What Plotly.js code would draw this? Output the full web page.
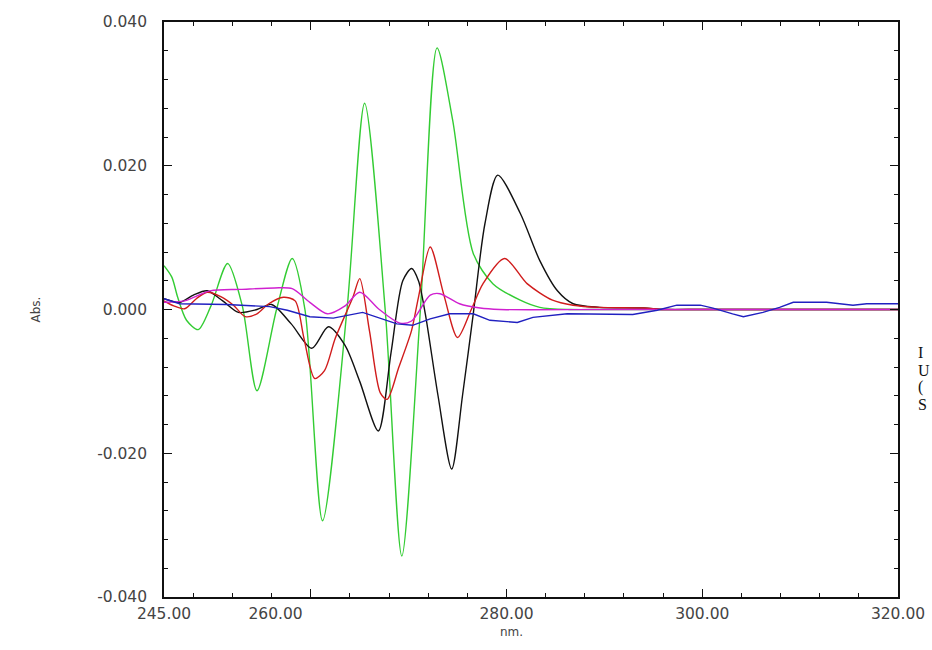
<!DOCTYPE html>
<html>
<head>
<meta charset="utf-8">
<script src="https://cdn.plot.ly/plotly-3.0.1.min.js"></script>
<style>html,body{margin:0;padding:0;background:#fff;overflow:hidden}</style>
</head>
<body>
<div id="chart" style="width:932px;height:650px"></div>
<script>
// Wavelength (nm) and derivative absorbance values
const greenX = [245.0,245.8,246.4,247.3,248.5,249.8,251.5,253.0,254.5,256.5,258.1,259.4,261.2,263.7,265.5,267.6,269.3,271.2,272.9,274.5,276.6,278.6,281.4,283.4,286.5,290,300,310,320];
const greenY = [0.0061,0.0045,0.0017,-0.0015,-0.0028,0.0005,0.0064,0.0005,-0.0113,0.0000,0.0071,0.0000,-0.0294,0.0000,0.0287,0.0000,-0.0343,0.0000,0.0364,0.0263,0.0078,0.0036,0.0013,0.0003,0.0000,0,0,0,0];

const blackX = [245.0,246.6,248.0,249.4,251.0,252.6,254.5,256.0,258.0,260.1,261.8,263.5,265.0,266.9,268.2,269.4,270.3,271.0,271.7,273.0,274.4,275.5,276.6,277.8,279.1,281.4,283.4,285.2,286.8,289.5,294.0,296,300,310,320];
const blackY = [0.0015,0.0010,0.0020,0.0026,0.0012,-0.0004,0.0000,0.0007,-0.0020,-0.0054,-0.0024,-0.0050,-0.0100,-0.0169,-0.0060,0.0040,0.0057,0.0040,-0.0006,-0.0120,-0.0222,-0.0120,-0.0006,0.0120,0.0187,0.0134,0.0068,0.0026,0.0008,0.0003,0.0002,0,0,0,0];

const redX = [245.0,246.0,247.1,248.3,249.4,250.8,252.1,253.3,254.5,255.7,257.2,258.4,259.3,260.4,261.4,262.5,264.3,265.0,266.0,267.1,267.8,269.0,270.3,271.0,272.2,273.6,275.0,276.4,277.6,279.8,282.1,284.7,286.8,289.5,294.0,296,300,310,320];
const redY = [0.0012,0.0005,0.0001,0.0015,0.0024,0.0018,0.0006,-0.0010,-0.0006,0.0008,0.0017,0.0012,-0.0040,-0.0096,-0.0085,-0.0040,0.0017,0.0043,-0.0030,-0.0116,-0.0125,-0.0080,-0.0029,0.0017,0.0087,0.0020,-0.0039,0.0000,0.0036,0.0071,0.0036,0.0013,0.0006,0.0003,0.0002,0,0,0,0];

const magentaX = [245.0,247.1,249.7,252.8,256.3,258.1,259.9,261.7,263.5,265.0,267.0,269.1,270.3,272.2,273.2,275.2,277.3,279.3,290,300,310,320];
const magentaY = [0.0010,0.0012,0.0026,0.0028,0.0030,0.0029,0.0010,-0.0006,0.0005,0.0024,0.0000,-0.0019,-0.0016,0.0020,0.0022,0.0008,0.0002,0.0000,0,0,0,0];

const blueX = [245.0,246.6,251.4,255.8,257.6,259.9,262.3,265.3,268.8,270.4,272.2,274.2,276.6,278.3,281.1,282.7,286.2,289.5,292.9,295.4,297.4,299.8,301.1,303.1,304.2,306.2,307.9,309.3,312.7,315.4,316.8,320.0];
const blueY = [0.0015,0.0008,0.0007,0.0004,-0.0001,-0.0010,-0.0012,-0.0004,-0.0020,-0.0022,-0.0013,-0.0006,-0.0006,-0.0015,-0.0018,-0.0011,-0.0006,-0.0006,-0.0007,-0.0001,0.0006,0.0006,0.0002,-0.0006,-0.0010,-0.0004,0.0003,0.0010,0.0010,0.0006,0.0008,0.0008];

// Axis labels
const yTickVals = [-0.04,-0.02,0,0.02,0.04];
const yTickText = ["-0.040","-0.020","0.000","0.020","0.040"];
const xMajorTicks = [260,280,300];
const xLabelVals = [245,256.4,280,300,320];
const xLabelText = ["245.00","260.00","280.00","300.00","320.00"];
const sideLetters = ["I","U","(","S"];

const mk = (x,y,c) => ({x:x,y:y,type:'scatter',mode:'lines',line:{color:c,width:1.4,shape:'spline',smoothing:0.8},hoverinfo:'skip',showlegend:false});
const data = [
  mk(greenX,greenY,'#33cc33'),
  mk(blackX,blackY,'#111111'),
  mk(redX,redY,'#d01c1c'),
  mk(magentaX,magentaY,'#d020d0'),
  Object.assign(mk(blueX,blueY,'#2020c0'),{line:{color:'#2020c0',width:1.4,shape:'linear'}}),
  {x:[],y:[],xaxis:'x2',type:'scatter',mode:'lines',showlegend:false,hoverinfo:'skip'}
];

const tickFont = {family:'"DejaVu Sans", Verdana, sans-serif',size:15.5,color:'#444'};
const titleFont = {family:'"DejaVu Sans", Verdana, sans-serif',size:12,color:'#444'};
const annotations = [
  {text:'Abs.',xref:'paper',yref:'paper',x:-0.1757,y:0.5,textangle:-90,showarrow:false,xanchor:'center',yanchor:'middle',font:titleFont},
  {text:'nm.',xref:'paper',yref:'paper',x:0.4728,y:-0.061,showarrow:false,xanchor:'center',yanchor:'middle',font:titleFont}
];
const letterY = [352,370,387,404];
sideLetters.forEach((t,i)=>{
  annotations.push({text:t,xref:'paper',yref:'paper',x:(916-164)/734,y:(597-letterY[i])/575,showarrow:false,xanchor:'left',yanchor:'middle',font:{family:'"Liberation Serif", "Times New Roman", serif',size:16,color:'#111'}});
});

const layout = {
  width:932,height:650,
  margin:{l:164,r:34,t:22,b:53,pad:0},
  paper_bgcolor:'#fff',plot_bgcolor:'#fff',
  showlegend:false,
  xaxis:{range:[245,320],showgrid:false,zeroline:false,showline:true,linecolor:'#111',linewidth:1.8,mirror:'ticks',
         tickmode:'array',tickvals:xMajorTicks,showticklabels:false,ticks:'inside',ticklen:8,tickcolor:'#111',tickwidth:1.2,
         minor:{tick0:244,dtick:4,ticks:'inside',ticklen:4,tickcolor:'#111',tickwidth:1,showgrid:false}},
  xaxis2:{range:[245,320],overlaying:'x',anchor:'y',side:'bottom',showgrid:false,zeroline:false,showline:false,
          tickmode:'array',tickvals:xLabelVals,ticktext:xLabelText,ticks:'',tickfont:tickFont,ticklabelstandoff:5},
  yaxis:{range:[-0.04,0.04],showgrid:false,zeroline:false,showline:true,linecolor:'#111',linewidth:1.8,mirror:'ticks',
         tickmode:'array',tickvals:yTickVals,ticktext:yTickText,ticks:'inside',ticklen:8,tickcolor:'#111',tickwidth:1.2,
         tickfont:tickFont,ticklabelstandoff:12,
         minor:{tick0:0,dtick:0.004,ticks:'inside',ticklen:4,tickcolor:'#111',tickwidth:1,showgrid:false}},
  annotations:annotations
};
Plotly.newPlot('chart',data,layout,{staticPlot:true,displayModeBar:false});
</script>
</body>
</html>
